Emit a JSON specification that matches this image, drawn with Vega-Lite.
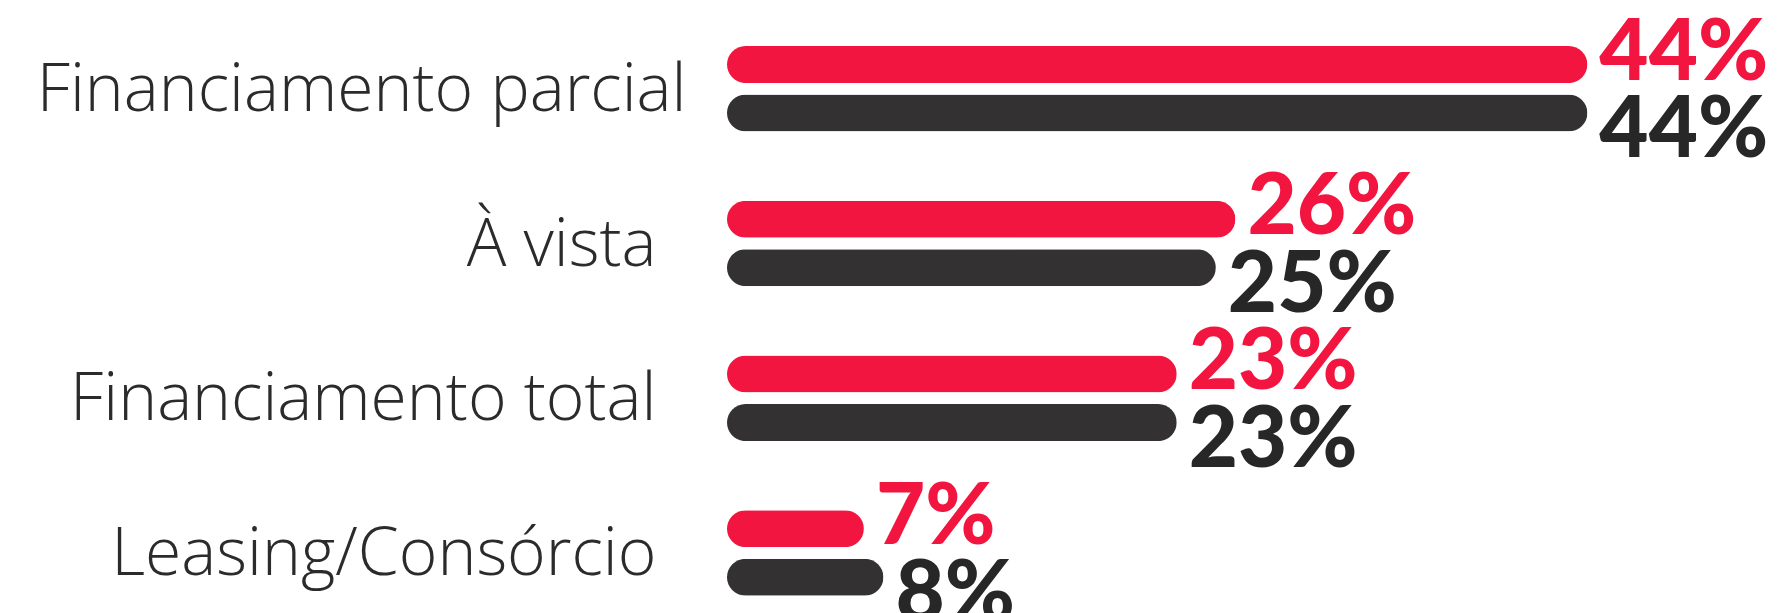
{
  "$schema": "https://vega.github.io/schema/vega-lite/v6.json",
  "width": 1052,
  "height": 613,
  "autosize": {"type": "none"},
  "padding": {"left": 727, "top": 0, "right": 0, "bottom": 0},
  "background": "white",
  "config": {"view": {"stroke": null}},
  "data": {
    "values": [
      {"categoria": "Financiamento parcial", "serie": "Série 1", "valor": 0.44},
      {"categoria": "Financiamento parcial", "serie": "Série 2", "valor": 0.44},
      {"categoria": "À vista", "serie": "Série 1", "valor": 0.26},
      {"categoria": "À vista", "serie": "Série 2", "valor": 0.25},
      {"categoria": "Financiamento total", "serie": "Série 1", "valor": 0.23},
      {"categoria": "Financiamento total", "serie": "Série 2", "valor": 0.23},
      {"categoria": "Leasing/Consórcio", "serie": "Série 1", "valor": 0.07},
      {"categoria": "Leasing/Consórcio", "serie": "Série 2", "valor": 0.08}
    ]
  },
  "encoding": {
    "y": {
      "field": "categoria",
      "type": "nominal",
      "sort": ["Financiamento parcial", "À vista", "Financiamento total", "Leasing/Consórcio"],
      "scale": {"paddingInner": 0.373, "paddingOuter": 0.167, "align": 0.78},
      "axis": {
        "title": null,
        "domain": false,
        "ticks": false,
        "grid": false,
        "labelFont": "Open Sans",
        "labelFontWeight": 300,
        "labelFontSize": 66,
        "labelColor": "#2b2b2b",
        "labelLimit": 1000,
        "labelOffset": 2,
        "labelPadding": {"condition": {"test": "datum.value === 'Financiamento parcial'", "value": 41}, "value": 71}
      }
    },
    "yOffset": {
      "field": "serie",
      "type": "nominal",
      "sort": ["Série 1", "Série 2"],
      "scale": {"paddingInner": 0, "paddingOuter": 0}
    },
    "x": {
      "field": "valor",
      "type": "quantitative",
      "scale": {"domain": [0, 0.538], "nice": false, "zero": true},
      "axis": null
    }
  },
  "layer": [
    {
      "mark": {"type": "bar", "height": 37, "cornerRadius": 18.5},
      "encoding": {
        "color": {
          "field": "serie",
          "type": "nominal",
          "scale": {"domain": ["Série 1", "Série 2"], "range": ["#F2153F", "#333132"]},
          "legend": null
        }
      }
    },
    {
      "transform": [{"filter": "datum.serie === 'Série 1'"}],
      "mark": {"type": "text", "align": "left", "baseline": "alphabetic", "dx": 12, "dy": 15, "font": "Lato", "fontWeight": 900, "fontSize": 85, "color": "#F2153F"},
      "encoding": {"text": {"field": "valor", "type": "quantitative", "format": ".0%"}}
    },
    {
      "transform": [{"filter": "datum.serie === 'Série 2'"}],
      "mark": {"type": "text", "align": "left", "baseline": "alphabetic", "dx": 12, "dy": 44, "font": "Lato", "fontWeight": 900, "fontSize": 85, "color": "#272727"},
      "encoding": {"text": {"field": "valor", "type": "quantitative", "format": ".0%"}}
    }
  ]
}
